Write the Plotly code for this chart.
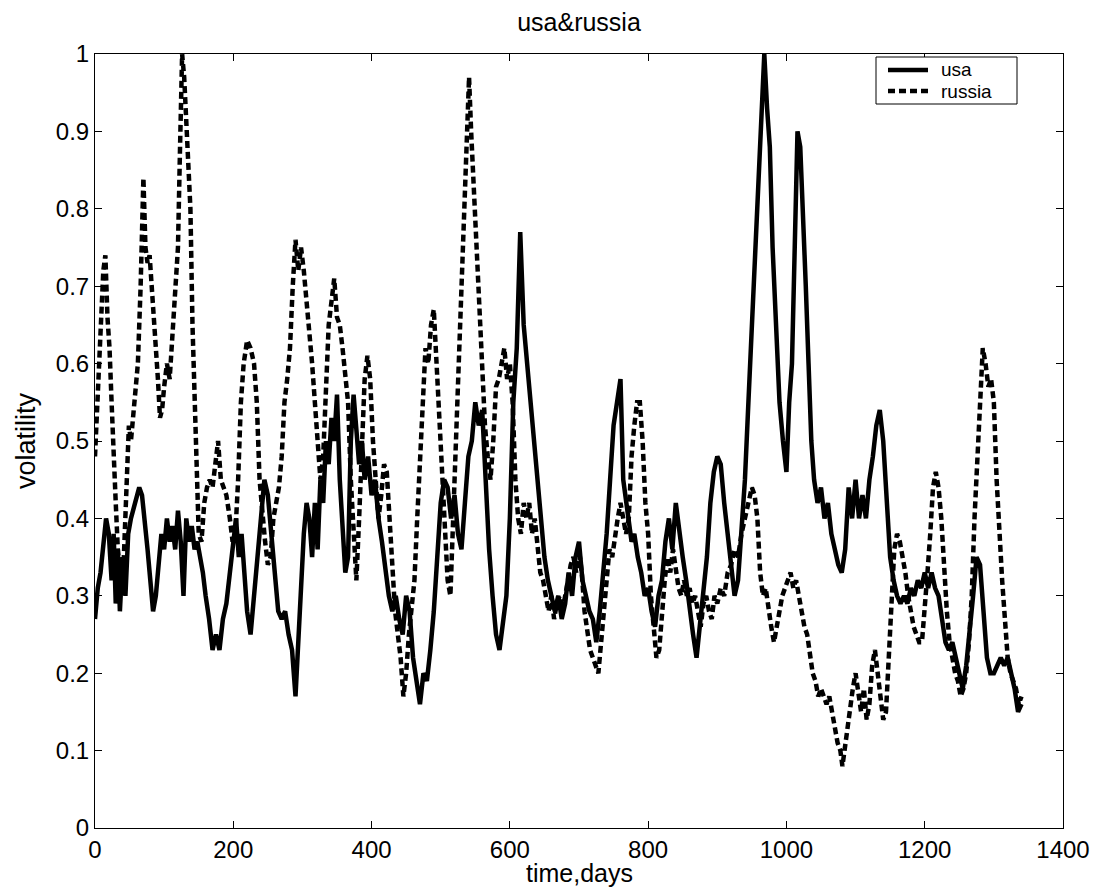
import plotly.graph_objects as go

# ---- data (day, volatility) ----
usa_days = [0, 4, 8, 12, 16, 20, 24, 27, 30, 33, 36, 40, 44, 48, 52, 58, 64, 68, 72, 76, 80, 84, 88, 92, 96, 100,
            104, 108, 112, 116, 120, 124, 128, 132, 136, 140, 144, 148, 152, 156, 160, 165, 170, 175, 180, 185, 190,
            195, 200, 204, 208, 212, 216, 220, 225, 230, 235, 240, 245, 250, 255, 260, 265, 270, 275, 280, 285, 290,
            294, 298, 302, 306, 310, 314, 318, 322, 326, 330, 334, 338, 342, 346, 350, 354, 358, 362, 366, 370, 374,
            378, 382, 386, 390, 395, 400, 405, 410, 415, 420, 425, 430, 435, 440, 445, 450, 455, 460, 465, 470, 475,
            480, 485, 490, 495, 500, 505, 510, 515, 520, 525, 530, 535, 540, 545, 550, 555, 560, 565, 570, 575, 580,
            585, 590, 595, 600, 605, 610, 615, 620, 625, 630, 635, 640, 645, 650, 655, 660, 665, 670, 675, 680, 685,
            690, 695, 700, 705, 710, 715, 720, 725, 730, 735, 740, 745, 750, 755, 760, 764, 768, 772, 776, 780, 785,
            790, 795, 800, 805, 810, 815, 820, 825, 830, 835, 840, 845, 850, 855, 860, 865, 870, 875, 880, 885, 890,
            895, 900, 905, 910, 915, 920, 925, 930, 935, 940, 945, 950, 955, 960, 964, 968, 972, 976, 980, 985, 990,
            995, 1000, 1004, 1008, 1012, 1016, 1020, 1024, 1028, 1032, 1036, 1040, 1045, 1050, 1055, 1060, 1065,
            1070, 1075, 1080, 1085, 1090, 1095, 1100, 1105, 1110, 1115, 1120, 1125, 1130, 1135, 1140, 1145, 1150,
            1155, 1160, 1165, 1170, 1175, 1180, 1185, 1190, 1195, 1200, 1205, 1210, 1215, 1220, 1225, 1230, 1235,
            1240, 1245, 1250, 1255, 1260, 1265, 1270, 1275, 1280, 1285, 1290, 1295, 1300, 1305, 1310, 1315, 1320,
            1325, 1330, 1335, 1340]
usa_vals = [.27, .31, .33, .36, .40, .38, .32, .38, .29, .36, .28, .35, .30, .38, .40, .42, .44, .43, .40, .36, .32,
            .28, .30, .35, .38, .36, .40, .37, .39, .36, .41, .37, .30, .40, .37, .39, .36, .37, .35, .33, .30, .27,
            .23, .25, .23, .27, .29, .33, .36, .40, .35, .38, .33, .28, .25, .30, .36, .40, .45, .43, .38, .34, .28,
            .27, .28, .25, .23, .17, .25, .33, .38, .42, .40, .35, .42, .36, .45, .42, .50, .47, .53, .50, .56, .45,
            .40, .33, .35, .50, .56, .52, .47, .50, .45, .48, .43, .45, .40, .37, .33, .30, .28, .30, .27, .25, .30,
            .28, .22, .19, .16, .20, .19, .23, .28, .35, .42, .45, .44, .40, .43, .38, .36, .42, .48, .50, .55, .52,
            .54, .45, .36, .30, .25, .23, .27, .30, .40, .55, .62, .77, .65, .60, .55, .50, .45, .40, .35, .32, .30,
            .28, .30, .27, .29, .33, .30, .35, .37, .32, .30, .28, .27, .24, .28, .33, .38, .45, .52, .55, .58, .45,
            .42, .40, .37, .38, .35, .33, .30, .31, .28, .26, .30, .32, .37, .40, .36, .42, .38, .35, .32, .28, .25,
            .22, .26, .30, .35, .42, .46, .48, .47, .42, .38, .34, .30, .32, .38, .45, .55, .65, .72, .85, .92, 1.0,
            .93, .88, .75, .65, .55, .50, .46, .55, .60, .75, .90, .88, .80, .70, .60, .50, .45, .42, .44, .40, .42,
            .38, .36, .34, .33, .36, .44, .40, .45, .40, .43, .40, .45, .48, .52, .54, .50, .42, .35, .32, .30, .29,
            .30, .29, .31, .30, .32, .31, .33, .31, .33, .31, .30, .27, .24, .23, .24, .22, .20, .18, .21, .25, .30,
            .35, .34, .28, .22, .20, .20, .21, .22, .21, .22, .20, .18, .15, .16]

russia_days = [0, 3, 6, 9, 12, 15, 18, 21, 24, 27, 30, 33, 36, 40, 43, 46, 49, 52, 55, 58, 62, 66, 70, 73, 76, 79,
               82, 85, 88, 91, 94, 97, 100, 104, 108, 112, 116, 120, 123, 126, 129, 132, 135, 138, 141, 144, 147,
               150, 154, 158, 162, 166, 170, 175, 178, 182, 186, 190, 195, 199, 203, 207, 211, 215, 220, 225, 230,
               234, 238, 242, 246, 250, 254, 258, 262, 266, 270, 274, 278, 282, 286, 290, 294, 298, 302, 306, 310,
               314, 318, 322, 326, 330, 334, 338, 342, 346, 350, 354, 358, 362, 366, 370, 374, 378, 382, 386, 390,
               394, 398, 402, 406, 410, 414, 418, 422, 426, 430, 434, 438, 442, 446, 450, 454, 458, 462, 466, 470,
               474, 478, 482, 486, 490, 494, 498, 502, 506, 510, 514, 518, 522, 526, 530, 534, 538, 541, 544, 548,
               552, 556, 560, 564, 568, 572, 576, 580, 584, 588, 592, 596, 600, 604, 608, 612, 616, 620, 624, 628,
               632, 636, 640, 644, 648, 652, 656, 660, 664, 668, 672, 676, 680, 684, 688, 692, 696, 700, 704, 708,
               712, 716, 720, 724, 728, 732, 736, 740, 744, 748, 752, 756, 760, 764, 768, 772, 776, 780, 784, 788,
               792, 796, 800, 804, 808, 812, 816, 820, 824, 828, 832, 836, 840, 844, 848, 852, 856, 860, 864, 868,
               872, 876, 880, 884, 888, 892, 896, 900, 905, 910, 915, 920, 925, 930, 935, 940, 945, 950, 954, 958,
               962, 966, 970, 974, 978, 982, 986, 990, 994, 998, 1002, 1006, 1010, 1014, 1018, 1022, 1026, 1030,
               1034, 1038, 1042, 1046, 1050, 1054, 1058, 1062, 1066, 1070, 1074, 1078, 1081, 1084, 1088, 1092,
               1096, 1100, 1104, 1108, 1112, 1116, 1120, 1124, 1128, 1132, 1136, 1140, 1144, 1148, 1152, 1156,
               1160, 1164, 1168, 1172, 1176, 1180, 1184, 1188, 1192, 1196, 1200, 1204, 1208, 1212, 1216, 1220,
               1224, 1228, 1232, 1236, 1240, 1244, 1248, 1252, 1256, 1260, 1264, 1268, 1272, 1276, 1280, 1284,
               1288, 1292, 1296, 1300, 1304, 1308, 1312, 1316, 1320, 1324, 1328, 1332, 1336, 1340]
russia_vals = [.48, .55, .62, .66, .72, .74, .66, .62, .55, .47, .42, .36, .33, .31, .38, .45, .52, .50, .53, .55,
               .60, .70, .84, .75, .73, .74, .70, .68, .63, .58, .53, .54, .57, .60, .58, .63, .70, .75, .88, 1.00,
               .97, .92, .85, .80, .65, .55, .45, .38, .37, .42, .44, .45, .44, .48, .50, .45, .44, .43, .40, .37,
               .38, .45, .55, .60, .63, .62, .60, .55, .45, .40, .37, .34, .35, .40, .42, .44, .48, .55, .58, .62,
               .70, .76, .72, .75, .72, .68, .65, .60, .55, .50, .45, .48, .58, .65, .68, .71, .66, .65, .62, .58,
               .55, .45, .38, .32, .40, .50, .58, .61, .58, .50, .44, .40, .43, .47, .46, .40, .32, .28, .25, .22,
               .17, .20, .25, .28, .32, .40, .48, .55, .62, .60, .65, .67, .60, .52, .45, .38, .32, .30, .40, .50,
               .62, .70, .82, .92, .97, .90, .82, .75, .68, .60, .52, .48, .45, .50, .57, .58, .60, .62, .58, .60,
               .55, .45, .40, .38, .42, .40, .42, .38, .40, .36, .33, .32, .30, .28, .30, .27, .29, .30, .28, .30,
               .32, .34, .35, .33, .36, .33, .28, .25, .23, .22, .21, .20, .24, .28, .32, .36, .35, .38, .40, .42,
               .40, .38, .40, .48, .52, .55, .55, .50, .42, .38, .30, .25, .22, .23, .28, .32, .35, .33, .36, .33,
               .31, .30, .32, .30, .31, .29, .30, .28, .26, .29, .30, .28, .27, .30, .29, .31, .30, .33, .34, .36,
               .35, .38, .40, .42, .44, .43, .40, .33, .30, .31, .28, .26, .24, .26, .28, .30, .31, .32, .33, .31,
               .32, .30, .28, .26, .25, .22, .20, .19, .17, .18, .17, .16, .17, .15, .13, .11, .10, .08, .10, .13,
               .16, .18, .20, .17, .15, .18, .14, .16, .21, .23, .20, .18, .14, .15, .22, .30, .36, .38, .37, .35,
               .33, .30, .28, .26, .25, .24, .24, .28, .33, .38, .44, .46, .44, .40, .33, .28, .24, .22, .20, .19,
               .17, .18, .20, .24, .30, .40, .48, .55, .62, .60, .57, .58, .55, .45, .38, .32, .27, .22, .20, .19,
               .18, .16, .17]

series_names = ["usa", "russia"]
x_ticks = [0, 200, 400, 600, 800, 1000, 1200, 1400]
y_ticks = [0, 0.1, 0.2, 0.3, 0.4, 0.5, 0.6, 0.7, 0.8, 0.9, 1]
y_tick_text = ["0", "0.1", "0.2", "0.3", "0.4", "0.5", "0.6", "0.7", "0.8", "0.9", "1"]

FONT = "Liberation Sans, Arial, Helvetica, sans-serif"
DASH = "7px,4px"
LW = 4.5

# plot-area geometry in pixels (for the hand-built MATLAB-style legend)
L, R, T, B = 95, 1063, 54, 828
W, H = R - L, B - T


def px(xp):
    return (xp - L) / W


def py(yp):
    return (B - yp) / H


fig = go.Figure()
fig.add_trace(go.Scatter(x=usa_days, y=usa_vals, mode="lines", name=series_names[0],
                         line=dict(color="black", width=LW)))
fig.add_trace(go.Scatter(x=russia_days, y=russia_vals, mode="lines", name=series_names[1],
                         line=dict(color="black", width=LW, dash=DASH)))

axis_common = dict(showgrid=False, zeroline=False, showline=True, linecolor="black", linewidth=1,
                   mirror="ticks", ticks="inside", ticklen=7, tickcolor="black",
                   tickfont=dict(family=FONT, size=24, color="black"))

fig.update_xaxes(range=[0, 1400], tickvals=x_ticks, ticklabelstandoff=0, **axis_common)
fig.update_yaxes(range=[0, 1], tickvals=y_ticks, ticktext=y_tick_text, **axis_common)

# legend box (MATLAB style: tight rows)
leg_l, leg_r, leg_t, leg_b = 876, 1017, 57, 104
row_y = [70, 91]
shapes = [
    dict(type="rect", xref="paper", yref="paper", x0=px(leg_l), x1=px(leg_r), y0=py(leg_b), y1=py(leg_t),
         line=dict(color="black", width=1), fillcolor="white", layer="above"),
    dict(type="line", xref="paper", yref="paper", x0=px(888), x1=px(928), y0=py(row_y[0]), y1=py(row_y[0]),
         line=dict(color="black", width=LW), layer="above"),
    dict(type="line", xref="paper", yref="paper", x0=px(888), x1=px(928), y0=py(row_y[1]), y1=py(row_y[1]),
         line=dict(color="black", width=LW, dash=DASH), layer="above"),
]
legend_texts = [
    dict(text=series_names[i], x=px(940), xref="paper", y=py(row_y[i]), yref="paper", showarrow=False,
         xanchor="left", yanchor="middle", font=dict(family=FONT, size=19, color="black"),
         borderpad=0)
    for i in range(2)
]

fig.update_layout(
    width=1104, height=888,
    margin=dict(l=L, r=1104 - R, t=T, b=888 - B),
    paper_bgcolor="white", plot_bgcolor="white",
    title=dict(text="usa&russia", x=0.5, xref="paper", y=1 - 22 / 888, yref="container",
               yanchor="middle", xanchor="center", font=dict(family=FONT, size=25, color="black")),
    showlegend=False,
    shapes=shapes,
    annotations=[
        dict(text="time,days", x=0.5, xref="paper", y=py(873), yref="paper",
             showarrow=False, xanchor="center", yanchor="middle", borderpad=0,
             font=dict(family=FONT, size=25, color="black")),
        dict(text="volatility", x=px(26), xref="paper", y=0.5, yref="paper",
             showarrow=False, xanchor="center", yanchor="middle", textangle=-90,
             font=dict(family=FONT, size=27, color="black")),
    ] + legend_texts,
)

fig.write_html("out.html")
